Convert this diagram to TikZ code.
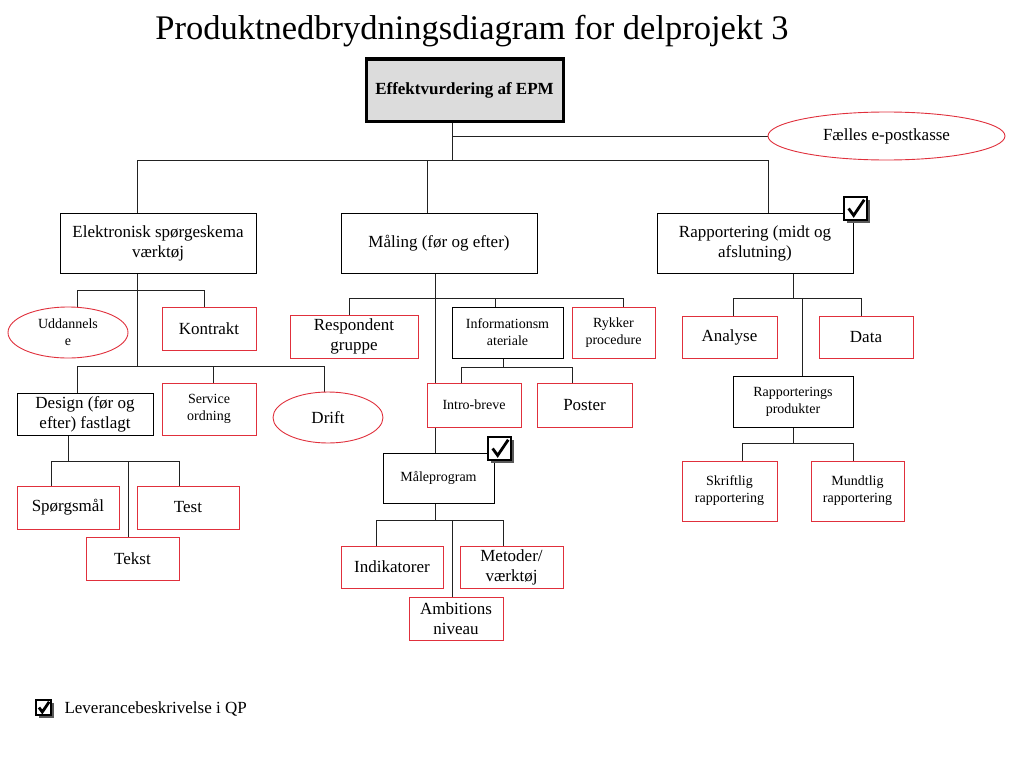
\documentclass[tikz,border=0pt]{standalone}
\usepackage{fontspec}
\setmainfont{Liberation Serif}
\usetikzlibrary{shapes.geometric,backgrounds}
\definecolor{boxred}{HTML}{E0303C}
\definecolor{linec}{HTML}{222222}
\definecolor{rootfill}{HTML}{DCDCDC}
\newcommand{\mychk}[3]{%
  \fill[black!65] (#1+3,#2+3) rectangle ++(#3,#3);
  \draw[line width=2pt, fill=white] (#1,#2) rectangle ++(#3,#3);
  \draw[line width=2.8pt, line join=miter] (#1+0.2*#3,#2+0.5*#3) -- (#1+0.42*#3,#2+0.8*#3) -- (#1+0.88*#3,#2+0.12*#3);
}
\tikzset{
  box/.style={draw, fill=white, line width=0.9pt, align=center, inner sep=1pt, font=\fontsize{17}{20}\selectfont},
  redbox/.style={box, draw=boxred},
  blkbox/.style={box, draw=black},
  oval/.style={box, ellipse, draw=boxred},
  small/.style={font=\fontsize{14}{17}\selectfont},
  sz/.style 2 args={minimum width=#1pt, minimum height=#2pt},
  conn/.style={draw=linec, line width=0.9pt}
}
\begin{document}
\begin{tikzpicture}[x=1pt,y=-1pt]
\useasboundingbox (0,0) rectangle (1024,768);

\node[anchor=base] (title) at (472,40) {\fontsize{34.5}{40}\selectfont Produktnedbrydningsdiagram for delprojekt 3};

\node[box, draw=black, fill=rootfill, line width=3pt, sz={197}{62}, font=\fontsize{17}{20}\selectfont\bfseries] (root) at (464.5,90) {Effektvurdering af EPM};
\node[oval, sz={237}{48}] (faelles) at (886.5,136) {Fælles e-postkasse};

\node[blkbox, sz={196}{60}] (elek) at (158,243) {Elektronisk spørgeskema\\værktøj};
\node[blkbox, sz={196}{60}] (maal) at (439,243) {Måling (før og efter)};
\node[blkbox, sz={196}{60}] (rapp) at (755,243) {Rapportering (midt og\\afslutning)};

\node[oval, small, sz={120}{51}] (udd) at (68,332.5) {Uddannels\\e};
\node[redbox, sz={94}{43}] (kontrakt) at (209,328.5) {Kontrakt};
\node[blkbox, sz={136}{42}] (design) at (85,414) {Design (før og\\efter) fastlagt};
\node[redbox, small, sz={94}{52}] (service) at (209,409) {Service\\ordning};
\node[oval, sz={110}{51}] (drift) at (328,417.5) {Drift};
\node[redbox, sz={102}{43}] (spm) at (68,507.5) {Spørgsmål};
\node[redbox, sz={102}{43}] (test) at (188,507.5) {Test};
\node[redbox, sz={93}{43}] (tekst) at (132.5,558.5) {Tekst};

\node[redbox, sz={128}{43}] (resp) at (354,336.5) {Respondent\\gruppe};
\node[blkbox, small, sz={111}{51}] (info) at (507.5,332.5) {Informationsm\\ateriale};
\node[redbox, small, sz={83}{51}] (rykker) at (613.5,332.5) {Rykker\\procedure};
\node[redbox, small, sz={94}{44}] (intro) at (474,405) {Intro-breve};
\node[redbox, sz={95}{44}] (poster) at (584.5,405) {Poster};
\node[blkbox, small, sz={111}{50}] (maleprog) at (438.5,478) {Måleprogram};
\node[redbox, sz={102}{42}] (indik) at (392,567) {Indikatorer};
\node[redbox, sz={103}{42}] (metoder) at (511.5,567) {Metoder/\\værktøj};
\node[redbox, sz={94}{43}] (ambit) at (456,618.5) {Ambitions\\niveau};

\node[redbox, sz={95}{42}] (analyse) at (729.5,337) {Analyse};
\node[redbox, sz={94}{42}] (data) at (866,337) {Data};
\node[blkbox, small, sz={120}{51}] (rprod) at (793,401.5) {Rapporterings\\produkter};
\node[redbox, small, sz={95}{60}] (skrift) at (729.5,491) {Skriftlig\\rapportering};
\node[redbox, small, sz={93}{60}] (mundt) at (857.5,491) {Mundtlig\\rapportering};

\begin{scope}[on background layer]
% root
\coordinate (j0) at (452,160);
\draw[conn] (root.south -| j0) -- (j0);
\draw[conn] (j0 |- faelles.west) -- (faelles.west);
\coordinate (d1) at (137,160);
\coordinate (d2) at (427,160);
\coordinate (d3) at (768,160);
\draw[conn] (d1) -- (d3);
\draw[conn] (d1) -- (d1 |- elek.north);
\draw[conn] (d2) -- (d2 |- maal.north);
\draw[conn] (d3) -- (d3 |- rapp.north);
% elek
\coordinate (e1) at (137,366);
\draw[conn] (e1 |- elek.south) -- (e1);
\coordinate (ea) at (77,290);
\coordinate (eb) at (204,290);
\draw[conn] (ea |- udd.north) -- (ea) -- (eb) -- (eb |- kontrakt.north);
\coordinate (ec) at (77,366);
\coordinate (ed) at (213,366);
\coordinate (ee) at (324,366);
\draw[conn] (ec |- design.north) -- (ec) -- (ee) -- (ee |- drift.north);
\draw[conn] (ed) -- (ed |- service.north);
% design
\coordinate (f0) at (68,461);
\draw[conn] (f0 |- design.south) -- (f0);
\coordinate (fa) at (51,461);
\coordinate (fb) at (179,461);
\coordinate (fc) at (128,461);
\draw[conn] (fa |- spm.north) -- (fa) -- (fb) -- (fb |- test.north);
\draw[conn] (fc) -- (fc |- tekst.north);
% maal
\coordinate (m0) at (435,298);
\draw[conn] (m0 |- maal.south) -- (m0 |- maleprog.north);
\coordinate (ma) at (349,298);
\coordinate (mb) at (495,298);
\coordinate (mc) at (623,298);
\draw[conn] (ma |- resp.north) -- (ma) -- (mc) -- (mc |- rykker.north);
\draw[conn] (mb) -- (mb |- info.north);
% info
\coordinate (i0) at (503,367);
\draw[conn] (i0 |- info.south) -- (i0);
\coordinate (ia) at (461,367);
\coordinate (ib) at (572,367);
\draw[conn] (ia |- intro.north) -- (ia) -- (ib) -- (ib |- poster.north);
% maleprog
\coordinate (p0) at (435,520);
\draw[conn] (p0 |- maleprog.south) -- (p0);
\coordinate (pa) at (376,520);
\coordinate (pb) at (503,520);
\coordinate (pc) at (452,520);
\draw[conn] (pa |- indik.north) -- (pa) -- (pb) -- (pb |- metoder.north);
\draw[conn] (pc) -- (pc |- ambit.north);
% rapp
\coordinate (r0) at (793,298);
\draw[conn] (r0 |- rapp.south) -- (r0);
\coordinate (ra) at (733,298);
\coordinate (rb) at (861,298);
\coordinate (rc) at (802,298);
\draw[conn] (ra |- analyse.north) -- (ra) -- (rb) -- (rb |- data.north);
\draw[conn] (rc) -- (rc |- rprod.north);
% rprod
\coordinate (s0) at (793,443);
\draw[conn] (s0 |- rprod.south) -- (s0);
\coordinate (sa) at (742,443);
\coordinate (sb) at (853,443);
\draw[conn] (sa |- skrift.north) -- (sa) -- (sb) -- (sb |- mundt.north);
\end{scope}

\mychk{844}{197}{23}
\mychk{488}{437}{23}
\mychk{36}{700}{15}
\node[anchor=base west, font=\fontsize{17}{20}\selectfont] (legend) at (61,713) {Leverancebeskrivelse i QP};
\end{tikzpicture}
\end{document}
